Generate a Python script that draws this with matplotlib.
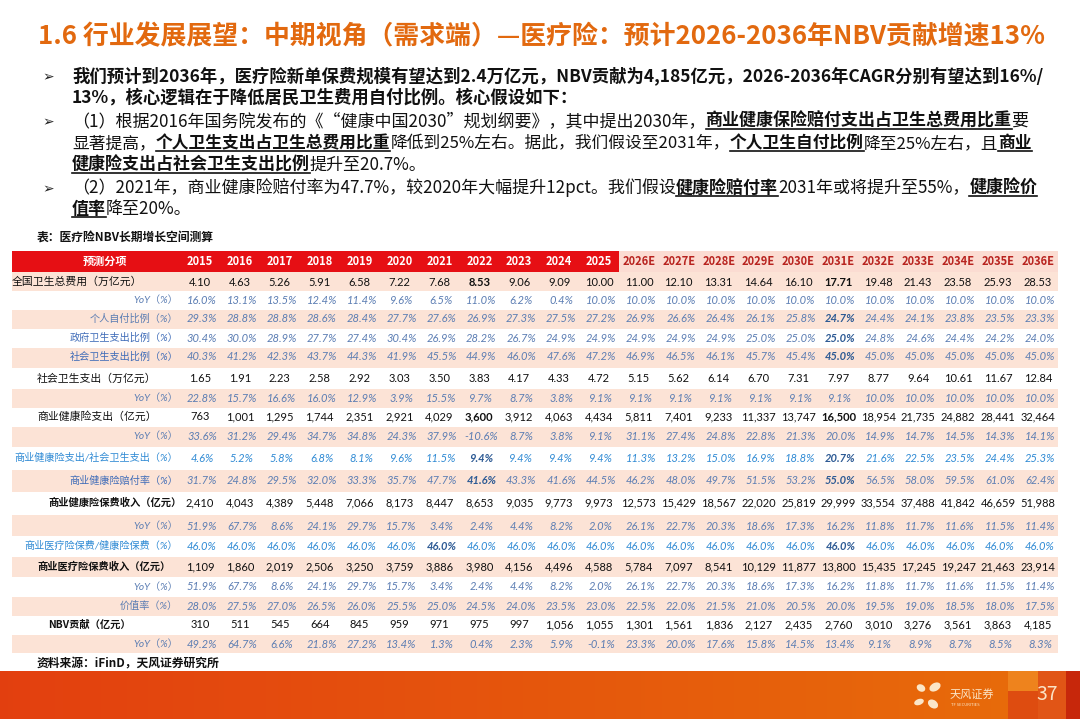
import matplotlib
matplotlib.use('Agg')
import matplotlib.pyplot as plt
import matplotlib.patches as mpatches
import numpy as np

plt.rcParams['font.family'] = ['Noto Sans CJK SC', 'DejaVu Sans']

W, H = 1080, 719
fig = plt.figure(figsize=(W / 100, H / 100), dpi=100)
ax = fig.add_axes([0, 0, 1, 1])
ax.set_xlim(0, W)
ax.set_ylim(H, 0)
ax.axis('off')
fig.patch.set_facecolor('white')
renderer = fig.canvas.get_renderer()

# ─── Data ─────────────────────────────────────────────────────────────────────
years = ['2015', '2016', '2017', '2018', '2019', '2020', '2021', '2022', '2023',
         '2024', '2025', '2026E', '2027E', '2028E', '2029E', '2030E', '2031E',
         '2032E', '2033E', '2034E', '2035E', '2036E']
N_HIST = 11   # 2015-2025 are actuals (red header)

total_exp = [4.10, 4.63, 5.26, 5.91, 6.58, 7.22, 7.68, 8.53, 9.06, 9.09, 10.00,
             11.00, 12.10, 13.31, 14.64, 16.10, 17.71, 19.48, 21.43, 23.58, 25.93, 28.53]
total_exp_yoy = [16.0, 13.1, 13.5, 12.4, 11.4, 9.6, 6.5, 11.0, 6.2, 0.4, 10.0,
                 10.0, 10.0, 10.0, 10.0, 10.0, 10.0, 10.0, 10.0, 10.0, 10.0, 10.0]
self_pay = [29.3, 28.8, 28.8, 28.6, 28.4, 27.7, 27.6, 26.9, 27.3, 27.5, 27.2,
            26.9, 26.6, 26.4, 26.1, 25.8, 24.7, 24.4, 24.1, 23.8, 23.5, 23.3]
gov_share = [30.4, 30.0, 28.9, 27.7, 27.4, 30.4, 26.9, 28.2, 26.7, 24.9, 24.9,
             24.9, 24.9, 24.9, 25.0, 25.0, 25.0, 24.8, 24.6, 24.4, 24.2, 24.0]
soc_share = [40.3, 41.2, 42.3, 43.7, 44.3, 41.9, 45.5, 44.9, 46.0, 47.6, 47.2,
             46.9, 46.5, 46.1, 45.7, 45.4, 45.0, 45.0, 45.0, 45.0, 45.0, 45.0]
soc_exp = [1.65, 1.91, 2.23, 2.58, 2.92, 3.03, 3.50, 3.83, 4.17, 4.33, 4.72,
           5.15, 5.62, 6.14, 6.70, 7.31, 7.97, 8.77, 9.64, 10.61, 11.67, 12.84]
soc_exp_yoy = [22.8, 15.7, 16.6, 16.0, 12.9, 3.9, 15.5, 9.7, 8.7, 3.8, 9.1,
               9.1, 9.1, 9.1, 9.1, 9.1, 9.1, 10.0, 10.0, 10.0, 10.0, 10.0]
chi_exp = [763, 1001, 1295, 1744, 2351, 2921, 4029, 3600, 3912, 4063, 4434,
           5811, 7401, 9233, 11337, 13747, 16500, 18954, 21735, 24882, 28441, 32464]
chi_exp_yoy = [33.6, 31.2, 29.4, 34.7, 34.8, 24.3, 37.9, -10.6, 8.7, 3.8, 9.1,
               31.1, 27.4, 24.8, 22.8, 21.3, 20.0, 14.9, 14.7, 14.5, 14.3, 14.1]
chi_to_soc = [4.6, 5.2, 5.8, 6.8, 8.1, 9.6, 11.5, 9.4, 9.4, 9.4, 9.4,
              11.3, 13.2, 15.0, 16.9, 18.8, 20.7, 21.6, 22.5, 23.5, 24.4, 25.3]
loss_ratio = [31.7, 24.8, 29.5, 32.0, 33.3, 35.7, 47.7, 41.6, 43.3, 41.6, 44.5,
              46.2, 48.0, 49.7, 51.5, 53.2, 55.0, 56.5, 58.0, 59.5, 61.0, 62.4]
chi_prem = [2410, 4043, 4389, 5448, 7066, 8173, 8447, 8653, 9035, 9773, 9973,
            12573, 15429, 18567, 22020, 25819, 29999, 33554, 37488, 41842, 46659, 51988]
chi_prem_yoy = [51.9, 67.7, 8.6, 24.1, 29.7, 15.7, 3.4, 2.4, 4.4, 8.2, 2.0,
                26.1, 22.7, 20.3, 18.6, 17.3, 16.2, 11.8, 11.7, 11.6, 11.5, 11.4]
med_share = [46.0] * 22
med_prem = [1109, 1860, 2019, 2506, 3250, 3759, 3886, 3980, 4156, 4496, 4588,
            5784, 7097, 8541, 10129, 11877, 13800, 15435, 17245, 19247, 21463, 23914]
med_prem_yoy = [51.9, 67.7, 8.6, 24.1, 29.7, 15.7, 3.4, 2.4, 4.4, 8.2, 2.0,
                26.1, 22.7, 20.3, 18.6, 17.3, 16.2, 11.8, 11.7, 11.6, 11.5, 11.4]
value_rate = [28.0, 27.5, 27.0, 26.5, 26.0, 25.5, 25.0, 24.5, 24.0, 23.5, 23.0,
              22.5, 22.0, 21.5, 21.0, 20.5, 20.0, 19.5, 19.0, 18.5, 18.0, 17.5]
nbv = [310, 511, 545, 664, 845, 959, 971, 975, 997, 1056, 1055,
       1301, 1561, 1836, 2127, 2435, 2760, 3010, 3276, 3561, 3863, 4185]
nbv_yoy = [49.2, 64.7, 6.6, 21.8, 27.2, 13.4, 1.3, 0.4, 2.3, 5.9, -0.1,
           23.3, 20.0, 17.6, 15.8, 14.5, 13.4, 9.1, 8.9, 8.7, 8.5, 8.3]

# label, values, format, row kind, bold columns
rows = [
    ('全国卫生总费用（万亿元）', total_exp, 'f2', 'main0', {7, 16}),
    ('YoY（%）', total_exp_yoy, 'pct', 'sub', set()),
    ('个人自付比例（%）', self_pay, 'pct', 'sub', {16}),
    ('政府卫生支出比例（%）', gov_share, 'pct', 'sub2', {16}),
    ('社会卫生支出比例（%）', soc_share, 'pct', 'sub2', {16}),
    ('社会卫生支出（万亿元）', soc_exp, 'f2', 'main1', set()),
    ('YoY（%）', soc_exp_yoy, 'pct', 'sub', set()),
    ('商业健康险支出（亿元）', chi_exp, 'int', 'main1', {7, 16}),
    ('YoY（%）', chi_exp_yoy, 'pct', 'sub', set()),
    ('商业健康险支出/社会卫生支出（%）', chi_to_soc, 'pct', 'sub3', {7, 16}),
    ('商业健康险赔付率（%）', loss_ratio, 'pct', 'sub2', {7, 16}),
    ('商业健康险保费收入（亿元）', chi_prem, 'int', 'mainb2', set()),
    ('YoY（%）', chi_prem_yoy, 'pct', 'sub', set()),
    ('商业医疗险保费/健康险保费（%）', med_share, 'pct', 'sub3', {6, 16}),
    ('商业医疗险保费收入（亿元）', med_prem, 'int', 'mainb1', set()),
    ('YoY（%）', med_prem_yoy, 'pct', 'sub', set()),
    ('价值率（%）', value_rate, 'pct', 'sub', set()),
    ('NBV贡献（亿元）', nbv, 'int', 'mainb2', set()),
    ('YoY（%）', nbv_yoy, 'pct', 'sub', set()),
]

# ─── Colours / layout ─────────────────────────────────────────────────────────
ORANGE = '#e2690f'
RED = '#e60f14'
PINK = '#fce3d6'
HDR_PINK = '#fbdcd2'
DARKRED = '#b8231f'
SUBCLR = '#5b7db3'
SUBCLR2 = '#3f6cb8'
SUBCLR3 = '#2f8ad4'
NUMFONT = ['Lato', 'Noto Sans CJK SC']

TL, TR = 12, 1058
COL0, COLW = 200, 39.9
HDR_TOP, HDR_BOT = 251, 272
ROW_Y = [282, 300, 319, 338, 357, 379, 398, 417, 436, 458, 481, 503,
         526, 546, 567, 587, 606, 625, 644]
TBL_BOT = 653


def runs(x, y, parts, size):
    """Draw text runs left to right; style n=normal, b=bold, bu=bold+underline."""
    for s, st in parts:
        t = ax.text(x, y, s, fontsize=size, va='baseline', ha='left', color='#111',
                    fontweight='normal' if st == 'n' else 'bold')
        w = t.get_window_extent(renderer).width
        if st == 'bu':
            ax.plot([x, x + w], [y + 3, y + 3], color='#111', lw=1.2)
        x += w


# ─── Title & bullets ──────────────────────────────────────────────────────────
ax.text(38, 37, '1.6 行业发展展望：中期视角（需求端）—医疗险：预计2026-2036年NBV贡献增速13%',
        fontsize=18.6, fontweight='bold', color=ORANGE, va='center', ha='left')

BS = 12.5
BS2 = 12.25
for by in (81, 126, 193):
    ax.text(42, by, '➢', fontsize=10, va='baseline', family='DejaVu Sans', color='#222')

runs(72, 81, [('我们预计到2036年，医疗险新单保费规模有望达到2.4万亿元，NBV贡献为4,185亿元，2026-2036年CAGR分别有望达到16%/', 'b')], BS)
runs(72, 103, [('13%，核心逻辑在于降低居民卫生费用自付比例。核心假设如下：', 'b')], BS)
runs(72, 126, [('（1）根据2016年国务院发布的《“健康中国2030”规划纲要》，其中提出2030年，', 'n'),
               ('商业健康保险赔付支出占卫生总费用比重', 'bu'), ('要', 'n')], BS2)
runs(72, 148, [('显著提高，', 'n'), ('个人卫生支出占卫生总费用比重', 'bu'),
               ('降低到25%左右。据此，我们假设至2031年，', 'n'), ('个人卫生自付比例', 'bu'),
               ('降至25%左右，且', 'n'), ('商业', 'bu')], BS2 - 0.2)
runs(72, 170, [('健康险支出占社会卫生支出比例', 'bu'), ('提升至20.7%。', 'n')], BS2)
runs(72, 193, [('（2）2021年，商业健康险赔付率为47.7%，较2020年大幅提升12pct。我们假设', 'n'),
               ('健康险赔付率', 'bu'), ('2031年或将提升至55%，', 'n'), ('健康险价', 'bu')], BS2)
runs(72, 214, [('值率', 'bu'), ('降至20%。', 'n')], BS2)

ax.text(37, 238, '表：医疗险NBV长期增长空间测算', fontsize=8.5, fontweight='bold',
        va='center', ha='left', color='#111')

# ─── Table ────────────────────────────────────────────────────────────────────
col_x = COL0 + COLW * np.arange(len(years))
split_x = col_x[N_HIST - 1] + COLW / 2

ax.add_patch(mpatches.Rectangle((TL, HDR_TOP), split_x - TL, HDR_BOT - HDR_TOP, fc=RED, ec='none'))
ax.add_patch(mpatches.Rectangle((split_x, HDR_TOP), TR - split_x, HDR_BOT - HDR_TOP, fc=HDR_PINK, ec='none'))
ax.text(105, (HDR_TOP + HDR_BOT) / 2, '预测分项', fontsize=8, fontweight='bold',
        color='white', ha='center', va='center')
for i, yr in enumerate(years):
    ax.text(col_x[i], (HDR_TOP + HDR_BOT) / 2, yr, fontsize=8, fontweight='bold',
            color='white' if i < N_HIST else DARKRED, ha='center', va='center')

edges = [HDR_BOT] + [(a + b) / 2 for a, b in zip(ROW_Y[:-1], ROW_Y[1:])] + [TBL_BOT]
for r, (label, vals, fmt, kind, bold_cols) in enumerate(rows):
    y = ROW_Y[r]
    if r % 2 == 0:
        ax.add_patch(mpatches.Rectangle((TL, edges[r]), TR - TL, edges[r + 1] - edges[r],
                                        fc=PINK, ec='none', zorder=0))
    is_sub = kind.startswith('sub')
    if is_sub:
        lc = {'sub': SUBCLR, 'sub2': SUBCLR2, 'sub3': SUBCLR3}[kind]
        ax.text(178, y, label, fontsize=7.3, style='italic', color=lc, ha='right',
                va='center', family=NUMFONT)
    else:
        lx = {'main0': 12, 'main1': 37, 'mainb1': 37, 'mainb2': 48}[kind]
        ax.text(lx, y, label, fontsize=7.4 if kind.startswith('mainb') else 7.8,
                color='#111', ha='left', va='center',
                fontweight='bold' if kind.startswith('mainb') else 'normal')
    for i, v in enumerate(vals):
        if fmt == 'f2':
            s = f'{v:.2f}'
        elif fmt == 'int':
            s = f'{v:,.0f}'
        else:
            s = f'{v:.1f}%'
        b = i in bold_cols
        if is_sub:
            vc = '#2d5a94' if b else (SUBCLR3 if kind == 'sub3' else SUBCLR)
            ax.text(col_x[i] + 2, y, s, fontsize=8, style='italic', color=vc, family=NUMFONT,
                    ha='center', va='center', fontweight='bold' if b else 'normal')
        else:
            ax.text(col_x[i], y, s, fontsize=8, color='#111', ha='center', va='center',
                    family=NUMFONT, fontweight='bold' if b else 'normal')

ax.text(37, 664, '资料来源：iFinD，天风证券研究所', fontsize=8.5, fontweight='bold',
        va='center', ha='left', color='#111')

# ─── Bottom bar ───────────────────────────────────────────────────────────────
grad = np.linspace(0, 1, 256)
c0 = np.array([0.89, 0.25, 0.06])
c1 = np.array([0.91, 0.43, 0.04])
img = (c0[None, :] * (1 - grad[:, None]) + c1[None, :] * grad[:, None])[None, :, :]
ax.imshow(img, extent=[0, W, H, 671], aspect='auto', zorder=1)
ax.add_patch(mpatches.Rectangle((1008, 671), 30, 20, fc='#f08a22', ec='none', alpha=0.8, zorder=2))
ax.add_patch(mpatches.Rectangle((1008, 691), 30, 28, fc='#dc4512', ec='none', alpha=0.8, zorder=2))
ax.add_patch(mpatches.Rectangle((1038, 671), 28, 48, fc='#e0501a', ec='none', alpha=0.8, zorder=2))
ax.add_patch(mpatches.Rectangle((1066, 671), 14, 48, fc='#c4200c', ec='none', alpha=0.9, zorder=2))
ax.text(1047, 694, '37', fontsize=14, color='#fbe3c5', ha='center', va='center', zorder=3)

# logo petals
for (px, py, pw, ph, ang) in [(921, 688, 9, 7, 30), (935, 687, 12, 8, -30),
                              (919, 702, 10, 6, -20), (933, 704, 11, 8, 35)]:
    ax.add_patch(mpatches.Ellipse((px, py), pw, ph, angle=ang, fc='#fbe6c8', ec='none', zorder=3))
ax.text(950, 694, '天风证券', fontsize=8, color='#fbe6c8', ha='left', va='center', zorder=3)
ax.text(951, 705, 'TF SECURITIES', fontsize=3, color='#fbe6c8', ha='left', va='center', zorder=3)

fig.savefig('out.png', dpi=100, facecolor='white')
